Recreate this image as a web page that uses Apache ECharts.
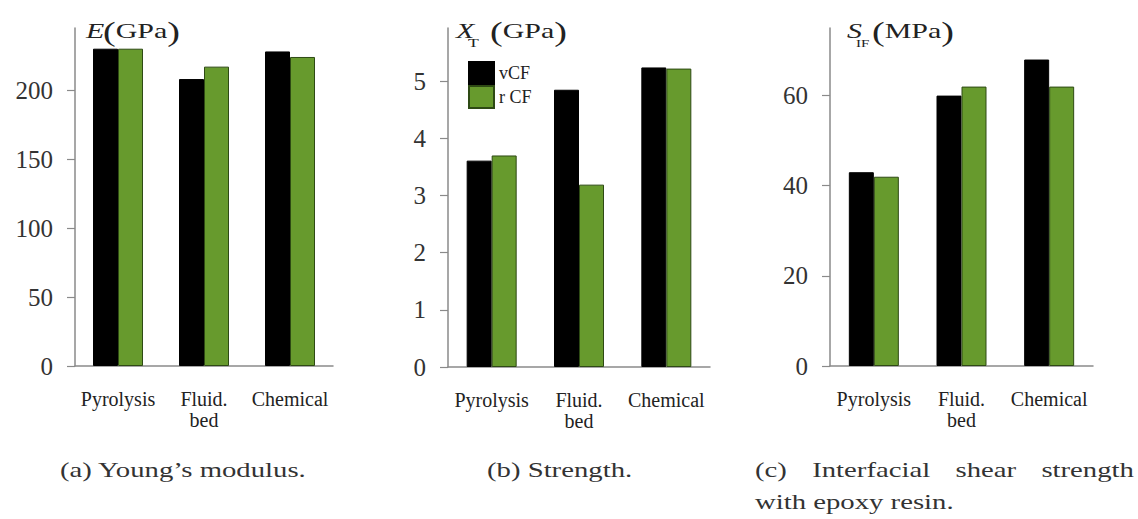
<!DOCTYPE html>
<html>
<head>
<meta charset="utf-8">
<script src="https://cdn.jsdelivr.net/npm/echarts@6/dist/echarts.min.js"></script>
<style>
html,body{margin:0;padding:0;background:#fff;}
#chart{width:1138px;height:519px;}
</style>
</head>
<body>
<div id="chart"></div>
<script>
// ---------- data ----------
const categories = ['Pyrolysis', 'Fluid.\nbed', 'Chemical'];
const seriesNames = ['vCF', 'r CF'];
const modulusV = [230, 208, 228];
const modulusR = [230, 217, 224];
const strengthV = [3.61, 4.85, 5.24];
const strengthR = [3.70, 3.19, 5.22];
const ifssV = [43, 60, 68];
const ifssR = [42, 62, 62];
const modulusTicks = [0, 50, 100, 150, 200];
const strengthTicks = [0, 1, 2, 3, 4, 5];
const ifssTicks = [0, 20, 40, 60];
const captionA = '(a) Young\u2019s modulus.';
const captionB = '(b) Strength.';
const captionC1 = ['(c)', 'Interfacial', 'shear', 'strength'];
const captionC2 = 'with epoxy resin.';

// ---------- styling ----------
const FF = 'Liberation Serif';
const AXIS = '#8a8a8a';
const GREEN = '#679a2d';
const BLACK = '#000000';

const mctx = document.createElement('canvas').getContext('2d');
function tw(str, size, italic) {
  mctx.font = (italic ? 'italic ' : '') + size + 'px "Liberation Serif"';
  return mctx.measureText(str).width;
}

const chart = echarts.init(document.getElementById('chart'), null, {renderer: 'svg'});

const grids = [
  {left: 75, top: 28, width: 258, height: 338},
  {left: 448, top: 28, width: 262, height: 339},
  {left: 830, top: 28, width: 263, height: 338}
];
const yDefs = [
  {max: 245, interval: 50, ticks: modulusTicks},
  {max: 5.93, interval: 1, ticks: strengthTicks},
  {max: 75, interval: 20, ticks: ifssTicks}
];
const dataSets = [[modulusV, modulusR], [strengthV, strengthR], [ifssV, ifssR]];

// ---------- titles & captions (graphic) ----------
const pSize = 28, nSize = 22;
const titleNatural = 2 * tw('(', pSize) + tw('GPa', nSize);
const ST = 77 / titleNatural;
const unitRich = {
  p: {fontFamily: FF, fontSize: pSize, fill: '#222'},
  n: {fontFamily: FF, fontSize: nSize, fill: '#222'}
};
function txt(str, x, y, size, italic, scale, color) {
  return {
    type: 'text', x: x, y: y, scaleX: scale, silent: true,
    style: {text: str, fontFamily: FF, fontSize: size, fontStyle: italic ? 'italic' : 'normal',
            fill: color || '#222', align: 'left', verticalAlign: 'middle'}
  };
}
function unitTxt(unit, x, y) {
  return {
    type: 'text', x: x, y: y, scaleX: ST, silent: true,
    style: {text: '{p|(}{n|' + unit + '}{p|)}', rich: unitRich, align: 'left', verticalAlign: 'middle'}
  };
}

const capSize = 22;
const SC = 247 / tw(captionA, capSize);
const capY1 = 470, capY2 = 502;
const CAPC = '#333';
const graphics = [
  txt('E', 86, 31, 22, true, ST),
  unitTxt('GPa', 103, 31),
  txt('X', 456, 31, 22, true, ST),
  txt('T', 468, 42, 13, false, ST),
  unitTxt('GPa', 490, 31),
  txt('S', 847, 31, 22, true, ST),
  txt('IF', 856, 43, 11, false, ST),
  unitTxt('MPa', 872, 31),
  txt(captionA, 60, capY1, capSize, false, SC, CAPC),
  txt(captionB, 487, capY1, capSize, false, SC, CAPC),
  txt(captionC2, 755, capY2, capSize, false, SC, CAPC)
];
// justified first line of caption (c)
(function () {
  const left = 755, right = 1134;
  const widths = captionC1.map(w => tw(w, capSize) * SC);
  const total = widths.reduce((a, b) => a + b, 0);
  const gap = (right - left - total) / (captionC1.length - 1);
  let x = left;
  captionC1.forEach((w, i) => {
    graphics.push(txt(w, x, capY1, capSize, false, SC, CAPC));
    x += widths[i] + gap;
  });
})();

const option = {
  animation: false,
  backgroundColor: '#ffffff',
  legend: {
    data: seriesNames, orient: 'vertical', left: 468, top: 61, padding: 0,
    itemWidth: 25, itemHeight: 22, itemGap: 0, icon: 'rect',
    textStyle: {fontFamily: FF, fontSize: 18, color: '#222'}
  },
  grid: grids,
  xAxis: grids.map((g, i) => ({
    type: 'category', gridIndex: i, data: categories,
    axisLine: {lineStyle: {color: AXIS, width: 1.5}},
    axisTick: {length: 7, lineStyle: {color: AXIS, width: 1.2}},
    axisLabel: {interval: 0, margin: 22, fontFamily: FF, fontSize: 20, lineHeight: 21, color: '#222'},
    splitLine: {show: false}
  })),
  yAxis: yDefs.map((d, i) => ({
    type: 'value', gridIndex: i, min: 0, max: d.max, interval: d.interval,
    axisLine: {show: true, lineStyle: {color: AXIS, width: 1.5}},
    axisTick: {show: true, length: 8, lineStyle: {color: AXIS, width: 1.2}, customValues: d.ticks},
    axisLabel: {margin: 22, fontFamily: FF, fontSize: 25, color: '#333', customValues: d.ticks},
    splitLine: {show: false}
  })),
  series: [],
  graphic: graphics
};
dataSets.forEach((pair, i) => {
  option.series.push({
    name: seriesNames[0], type: 'bar', xAxisIndex: i, yAxisIndex: i, data: pair[0],
    barWidth: 25, barGap: '0%',
    itemStyle: {color: BLACK, borderColor: '#000', borderWidth: 1}
  });
  option.series.push({
    name: seriesNames[1], type: 'bar', xAxisIndex: i, yAxisIndex: i, data: pair[1],
    barWidth: 25, barGap: '0%',
    itemStyle: {color: GREEN, borderColor: '#2e4a14', borderWidth: 1}
  });
});
chart.setOption(option);
</script>
</body>
</html>
